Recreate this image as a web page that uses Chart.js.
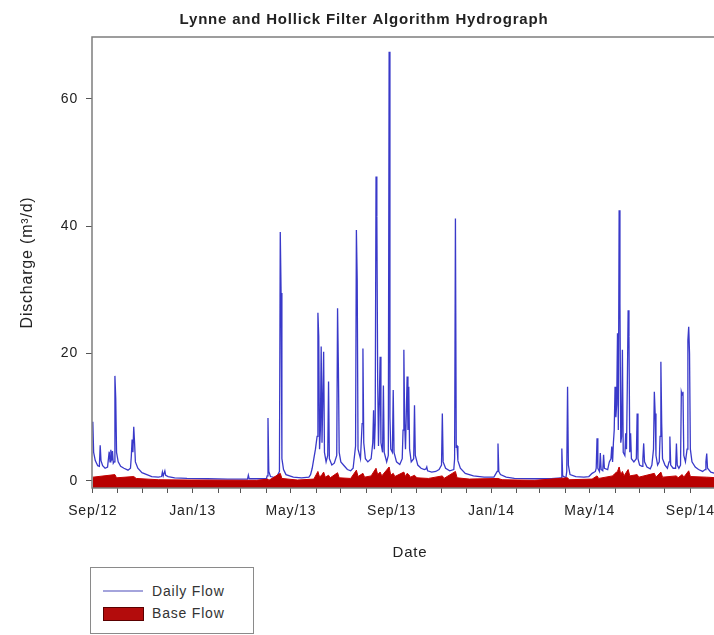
<!DOCTYPE html>
<html>
<head>
<meta charset="utf-8">
<script src="https://cdn.jsdelivr.net/npm/chart.js@4.4.1/dist/chart.umd.min.js"></script>
<style>
  html, body { margin: 0; padding: 0; background: #fff; overflow: hidden; }
  #wrap { position: relative; width: 714px; height: 635px; overflow: hidden; }
  #box { position: absolute; left: 0; top: 0; width: 728px; height: 635px; }
  #legenda { position: absolute; left: 90px; top: 567px; width: 162px; height: 65px; border: 1px solid #8a8a8a; background: #fff;
    font-family: "Liberation Sans", Arial, sans-serif; font-size: 14px; color: #333; letter-spacing: 0.8px; }
  #legenda .linha { position: absolute; left: 12px; top: 22px; width: 40px; height: 2px; background: #a4a4dc; }
  #legenda .caixa { position: absolute; left: 12px; top: 39px; width: 39px; height: 12px; background: #b30c0c; border: 1px solid #5a0000; }
  #legenda .txt { position: absolute; left: 61px; line-height: 16px; }
</style>
</head>
<body>
<div id="wrap">
  <div id="box"><canvas id="grafico-hidrograma"></canvas></div>
  <div id="legenda">
    <div class="linha"></div><div class="txt" style="top:15px">Daily Flow</div>
    <div class="caixa"></div><div class="txt" style="top:37px">Base Flow</div>
  </div>
</div>
<script>
// dias contados a partir de 1/set/2012
const flowDays = [0, 1, 3, 6, 8, 9, 10, 12, 15, 18, 20, 21, 22, 23, 24, 25, 26, 27, 28, 29, 31, 34, 38, 43, 46, 47, 48, 49, 50, 51, 52, 55, 60, 66, 72, 80, 84, 85, 86, 88, 89, 92, 100, 115, 140, 165, 189, 190, 191, 212, 213, 214, 215, 217, 224, 228, 229, 230, 231, 233, 236, 245, 255, 264, 266, 268, 270, 272, 274, 275, 276, 277, 278, 279, 280, 282, 283, 285, 287, 288, 289, 292, 295, 298, 299, 300, 301, 303, 307, 311, 315, 318, 321, 322, 323, 324, 327, 329, 330, 331, 333, 336, 340, 342, 343, 344, 345, 346, 347, 348, 349, 351, 352, 354, 355, 356, 359, 361, 362, 363, 364, 366, 367, 368, 371, 375, 378, 379, 380, 381, 382, 384, 385, 386, 387, 389, 392, 393, 394, 397, 401, 405, 407, 408, 409, 414, 419, 423, 426, 427, 428, 431, 436, 441, 442, 443, 444, 445, 446, 449, 455, 465, 478, 490, 494, 495, 496, 498, 505, 515, 540, 560, 572, 573, 574, 578, 579, 580, 581, 583, 590, 600, 606, 610, 614, 615, 616, 617, 619, 620, 621, 623, 624, 625, 629, 631, 633, 634, 635, 636, 637, 638, 639, 640, 641, 642, 643, 644, 645, 646, 647, 648, 650, 651, 652, 653, 654, 655, 656, 657, 658, 661, 664, 665, 666, 668, 671, 672, 673, 674, 677, 681, 683, 685, 686, 687, 688, 690, 692, 693, 694, 695, 696, 699, 702, 704, 705, 706, 709, 712, 713, 714, 716, 718, 719, 720, 721, 722, 724, 726, 727, 728, 729, 730, 732, 736, 740, 745, 748, 749, 750, 751, 755, 760, 768, 776];
const flowValues = [9.3, 4.5, 3.2, 2.4, 2.3, 5.6, 3.2, 2.4, 2.0, 2.2, 4.6, 3.0, 4.9, 3.2, 4.7, 2.8, 3.0, 16.5, 13.0, 4.5, 3.0, 2.3, 2.0, 1.7, 2.0, 3.8, 6.5, 4.5, 8.5, 6.0, 3.0, 2.0, 1.3, 1.0, 0.7, 0.6, 0.7, 1.4, 0.8, 1.6, 0.9, 0.7, 0.5, 0.4, 0.35, 0.3, 0.3, 0.9, 0.35, 0.35, 0.8, 9.9, 1.5, 0.7, 0.5, 1.5, 39.1, 29.5, 3.5, 1.8, 1.0, 0.6, 0.5, 0.6, 1.0, 2.0, 3.5, 5.0, 7.0, 26.4, 22.7, 5.0, 8.0, 21.1, 6.0, 20.3, 4.5, 3.0, 4.0, 15.6, 3.5, 2.5, 2.8, 4.0, 27.1, 18.0, 4.5, 3.0, 2.4, 1.8, 1.6, 2.0, 5.5, 39.4, 31.6, 5.0, 3.5, 9.0, 20.8, 6.0, 3.5, 3.0, 3.5, 6.0, 11.1, 5.0, 9.0, 47.8, 41.5, 16.0, 5.5, 19.5, 6.0, 4.5, 15.0, 4.5, 3.0, 4.0, 67.4, 10.0, 5.0, 4.5, 14.3, 4.5, 3.0, 2.6, 3.5, 8.0, 20.6, 9.0, 5.0, 16.4, 8.0, 14.8, 5.0, 3.0, 3.5, 11.9, 4.0, 2.5, 2.0, 1.8, 1.9, 2.2, 1.6, 1.4, 1.5, 1.8, 2.5, 10.6, 3.0, 2.0, 1.6, 1.8, 3.5, 41.2, 5.4, 5.5, 3.2, 2.0, 1.2, 0.8, 0.6, 0.6, 1.5, 5.9, 1.5, 1.0, 0.6, 0.4, 0.35, 0.35, 0.5, 5.1, 0.8, 0.5, 1.5, 14.8, 2.5, 1.0, 0.7, 0.6, 0.7, 1.2, 1.5, 2.0, 6.7, 2.0, 1.5, 4.4, 1.8, 1.6, 4.1, 2.0, 1.8, 3.0, 3.5, 5.4, 3.0, 6.0, 8.0, 14.8, 10.0, 12.0, 23.2, 8.0, 42.5, 27.9, 6.0, 7.0, 20.6, 4.5, 4.0, 7.5, 5.0, 15.0, 26.8, 22.7, 4.5, 7.5, 3.5, 3.0, 3.5, 10.6, 3.5, 2.5, 2.3, 3.5, 5.9, 3.0, 2.2, 1.9, 2.5, 5.0, 14.0, 10.6, 4.0, 2.5, 3.0, 7.0, 18.7, 9.0, 3.5, 2.5, 2.0, 3.0, 7.0, 2.5, 2.0, 2.0, 5.9, 2.5, 2.0, 2.5, 14.0, 13.5, 14.0, 4.0, 3.0, 5.0, 22.1, 24.2, 20.0, 5.0, 3.0, 2.2, 1.8, 1.5, 1.8, 3.0, 4.3, 2.0, 1.4, 1.2, 1.0, 0.9];

const baseDays = [0, 27, 29, 50, 53, 80, 120, 200, 214, 215, 229, 231, 250, 270, 275, 277, 280, 282, 284, 288, 290, 299, 301, 315, 322, 324, 330, 332, 340, 346, 348, 351, 353, 362, 364, 367, 369, 380, 382, 384, 386, 388, 393, 396, 410, 427, 429, 443, 445, 460, 495, 500, 540, 580, 582, 610, 616, 618, 635, 638, 641, 643, 645, 647, 649, 654, 656, 665, 667, 686, 688, 694, 696, 713, 715, 720, 722, 728, 730, 750, 776];
const baseValues = [0.6, 1.0, 0.5, 0.7, 0.4, 0.2, 0.15, 0.1, 0.3, 0.1, 1.2, 0.4, 0.15, 0.3, 1.5, 0.6, 1.0, 1.4, 0.6, 0.9, 0.5, 1.3, 0.5, 0.4, 1.7, 0.7, 1.2, 0.6, 0.8, 2.0, 1.0, 1.4, 0.8, 2.2, 0.9, 1.2, 0.7, 1.4, 0.7, 1.2, 1.0, 0.6, 0.9, 0.5, 0.4, 0.8, 0.4, 1.5, 0.5, 0.3, 0.4, 0.2, 0.1, 0.5, 0.2, 0.3, 0.8, 0.4, 0.8, 1.2, 1.5, 2.2, 1.0, 1.5, 0.8, 1.8, 0.8, 1.0, 0.6, 1.2, 0.6, 1.4, 0.6, 0.8, 0.5, 1.0, 0.6, 1.6, 0.7, 0.6, 0.4];

// inicio de cada mes (set/12 ate out/14)
const monthDays = [0, 30, 61, 91, 122, 153, 181, 212, 242, 273, 303, 334, 365, 395, 426, 456, 487, 518, 546, 577, 607, 638, 668, 699, 730, 760];
const monthLabels = ['Sep/12', '', '', '', 'Jan/13', '', '', '', 'May/13', '', '', '', 'Sep/13', '', '', '', 'Jan/14', '', '', '', 'May/14', '', '', '', 'Sep/14', ''];
const yTicks = [0, 20, 40, 60];

const fonte = '"Liberation Sans", Arial, sans-serif';

function montaPontos(dias, valores){
	let temp = [];
	dias.map((d, i) => {
		temp.push({x: d, y: valores[i]});
	})
	return temp;
}

const molduraPlugin = {
	id: 'moldura',
	beforeDraw(chart) {
		chart.ctx.letterSpacing = '0.8px';
	},
	afterDatasetsDraw(chart) {
		const a = chart.chartArea;
		const ctx = chart.ctx;
		ctx.save();
		ctx.strokeStyle = '#7d7d7d';
		ctx.lineWidth = 1.5;
		ctx.strokeRect(a.left, a.top, a.right - a.left, a.bottom - a.top);
		ctx.restore();
	}
};

var ctx = document.getElementById('grafico-hidrograma');

var myChart = new Chart(ctx, {
	type: 'line',
	data: {
		datasets: [{
			label: 'Base Flow',
			data: montaPontos(baseDays, baseValues),
			borderColor: '#c40000',
			backgroundColor: '#b80000',
			borderWidth: 1,
			fill: 'start',
			pointRadius: 0,
			tension: 0,
			order: 0
		}, {
			label: 'Daily Flow',
			data: montaPontos(flowDays, flowValues),
			borderColor: 'rgba(35,35,195,0.9)',
			borderWidth: 1.3,
			fill: false,
			pointRadius: 0,
			tension: 0,
			order: 1
		}]
	},
	options: {
		responsive: true,
		maintainAspectRatio: false,
		animation: false,
		layout: { padding: { left: 0, right: 0, top: 0, bottom: 72 } },
		plugins: {
			legend: { display: false },
			tooltip: { enabled: false },
			title: {
				display: true,
				text: 'Lynne and Hollick Filter Algorithm Hydrograph',
				color: '#222',
				font: { family: fonte, size: 15, weight: 'bold' },
				padding: { top: 11, bottom: 8 }
			}
		},
		scales: {
			x: {
				type: 'linear',
				min: -1,
				max: 776,
				afterBuildTicks: (scale) => { scale.ticks = monthDays.map(v => ({value: v})); },
				afterFit: (scale) => { scale.height = 75; },
				border: { display: false },
				grid: { drawOnChartArea: false, drawTicks: true, tickLength: 5, color: '#555' },
				ticks: {
					autoSkip: false,
					maxRotation: 0,
					padding: 10,
					color: '#222',
					font: { family: fonte, size: 14 },
					callback: (v, i) => monthLabels[i]
				},
				title: {
					display: true,
					text: 'Date',
					color: '#222',
					font: { family: fonte, size: 15 },
					padding: { top: 0, bottom: 1 }
				}
			},
			y: {
				type: 'linear',
				min: -1.1,
				max: 69.7,
				afterBuildTicks: (scale) => { scale.ticks = yTicks.map(v => ({value: v})); },
				afterFit: (scale) => { scale.width = 92; },
				border: { display: false },
				grid: { drawOnChartArea: false, drawTicks: true, tickLength: 6, color: '#555' },
				ticks: {
					padding: 8,
					color: '#222',
					font: { family: fonte, size: 14 }
				},
				title: {
					display: true,
					text: 'Discharge (m³/d)',
					color: '#222',
					font: { family: fonte, size: 16 },
					padding: { top: 18, bottom: 0 }
				}
			}
		}
	},
	plugins: [molduraPlugin]
});
</script>
</body>
</html>
